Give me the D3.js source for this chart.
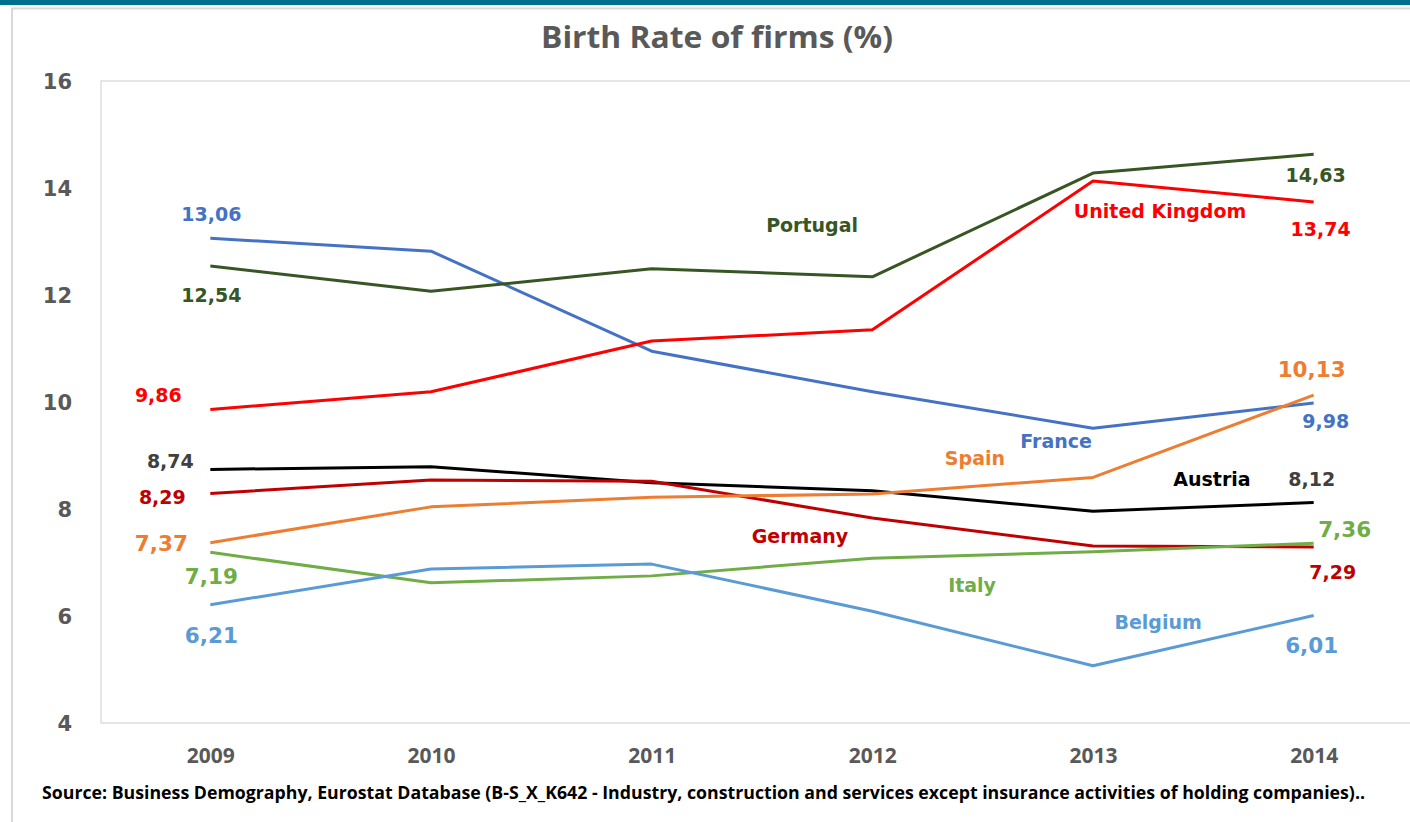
<!DOCTYPE html>
<html>
<head>
<meta charset="utf-8">
<script src="https://cdn.jsdelivr.net/npm/d3@7"></script>
<style>
  html, body { margin: 0; padding: 0; background: #ffffff; }
  svg { display: block; }
</style>
</head>
<body>
<script>
// ---- data ----
const years = ["2009", "2010", "2011", "2012", "2013", "2014"];
const countries = ["France", "Portugal", "United Kingdom", "Austria", "Germany", "Spain", "Italy", "Belgium"];
const france        = [13.06, 12.82, 10.95, 10.19, 9.51, 9.98];
const portugal      = [12.54, 12.07, 12.49, 12.34, 14.28, 14.63];
const unitedKingdom = [9.86, 10.19, 11.14, 11.35, 14.13, 13.74];
const austria       = [8.74, 8.79, 8.49, 8.34, 7.96, 8.12];
const germany       = [8.29, 8.54, 8.52, 7.83, 7.31, 7.29];
const spain         = [7.37, 8.04, 8.22, 8.28, 8.59, 10.13];
const italy         = [7.19, 6.62, 6.75, 7.08, 7.20, 7.36];
const belgium       = [6.21, 6.88, 6.97, 6.09, 5.07, 6.01];
const yTicks = [4, 6, 8, 10, 12, 14, 16];
const title = "Birth Rate of firms (%)";
const source = "Source: Business Demography, Eurostat  Database (B-S_X_K642 - Industry, construction and services except insurance activities of holding companies)..";

// ---- styling / layout (not data) ----
const seriesValues = [france, portugal, unitedKingdom, austria, germany, spain, italy, belgium];
const colors = ["#4472C4", "#375623", "#FF0000", "#000000", "#C00000", "#ED7D31", "#70AD47", "#5B9BD5"];
const valueColors = ["#4472C4", "#375623", "#FF0000", "#404040", "#C00000", "#ED7D31", "#70AD47", "#5B9BD5"];
// start label offsets (dx, dy from the 2009 point, to text centre), font size
const startLab = [[1,-24,19],[1,29,19],[-52,-14.5,19],[-40,-8,19],[-48,3.5,19],[-49,0,21.5],[1,24,21.5],[1,30,21.5]];
const endLab   = [[12,18,19],[2,21,19],[7,27,19],[-2,-24,19],[19,25,19],[-2,-26,21.5],[31,-14,21.5],[-2,30,21.5]];
// name labels at fractional category index and value position
const nameLab  = [[3.833,9.27],[2.727,13.31],[4.304,13.57],[4.539,8.56],[2.672,7.50],[3.465,8.95],[3.452,6.58],[4.295,5.89]];

const W = 1410, H = 822;
const plot = { left: 101, right: 1424, top: 81, bottom: 723 };

const svg = d3.select("body").append("svg").attr("width", W).attr("height", H);

// frame
svg.append("rect").attr("x", 0).attr("y", 0).attr("width", W).attr("height", 5).attr("fill", "#00708F");
svg.append("line").attr("x1", 11).attr("x2", W).attr("y1", 8.5).attr("y2", 8.5).attr("stroke", "#d9d9d9").attr("stroke-width", 2);
svg.append("line").attr("x1", 12).attr("x2", 12).attr("y1", 8).attr("y2", H).attr("stroke", "#d9d9d9").attr("stroke-width", 2);

// plot area border
svg.append("rect").attr("x", plot.left).attr("y", plot.top)
  .attr("width", plot.right - plot.left).attr("height", plot.bottom - plot.top)
  .attr("fill", "none").attr("stroke", "#d9d9d9").attr("stroke-width", 1.3);

const x = d3.scalePoint().domain(years).range([100, 1424]).padding(0.5);
const y = d3.scaleLinear().domain([4, 16]).range([723, 81]);
const xi = i => x(years[0]) + i * x.step();

// title
svg.append("text").attr("x", 717).attr("y", 48).attr("text-anchor", "middle")
  .attr("font-family", "'Open Sans', sans-serif").attr("font-weight", "bold").attr("font-size", 30)
  .attr("fill", "#595959").attr("textLength", 352).attr("lengthAdjust", "spacingAndGlyphs")
  .text(title);

// y axis
const yAxis = svg.append("g").attr("transform", `translate(${plot.left},0)`)
  .call(d3.axisLeft(y).tickValues(yTicks).tickSize(0).tickPadding(29).tickFormat(d3.format("d")));
yAxis.select(".domain").remove();
yAxis.selectAll("text").attr("font-family", "'DejaVu Sans', sans-serif").attr("font-weight", "bold")
  .attr("font-size", 21).attr("fill", "#595959").attr("dy", "0.36em");

// x axis
const xAxis = svg.append("g").attr("transform", `translate(0,${plot.bottom})`)
  .call(d3.axisBottom(x).tickSize(0).tickPadding(40));
xAxis.select(".domain").remove();
xAxis.selectAll("text").attr("font-family", "'Open Sans', sans-serif").attr("font-weight", "bold")
  .attr("font-size", 21).attr("fill", "#595959").attr("dy", 0);

// lines
const line = d3.line().x((d, i) => x(years[i])).y(d => y(d));
seriesValues.forEach((vals, k) => {
  svg.append("path").datum(vals).attr("d", line).attr("fill", "none")
    .attr("stroke", colors[k]).attr("stroke-width", 3).attr("stroke-linejoin", "round");
});

const fmt = v => d3.format(".2f")(v).replace(".", ",");
const labelFont = "'DejaVu Sans', sans-serif";
function addLabel(cx, cy, size, color, txt) {
  svg.append("text").attr("x", cx).attr("y", cy + size * 0.729 / 2)
    .attr("text-anchor", "middle").attr("font-family", labelFont).attr("font-weight", "bold")
    .attr("font-size", size).attr("fill", color).text(txt);
}

seriesValues.forEach((vals, k) => {
  const s = startLab[k], e = endLab[k], n = nameLab[k];
  addLabel(x(years[0]) + s[0], y(vals[0]) + s[1], s[2], valueColors[k], fmt(vals[0]));
  const last = vals.length - 1;
  addLabel(x(years[last]) + e[0], y(vals[last]) + e[1], e[2], valueColors[k], fmt(vals[last]));
  addLabel(xi(n[0]), y(n[1]), 19, colors[k], countries[k]);
});

// source
svg.append("text").attr("x", 42).attr("y", 799)
  .attr("font-family", "'Liberation Sans Narrow', 'Open Sans', sans-serif").attr("font-weight", "bold")
  .attr("font-size", 18).attr("fill", "#000000")
  .attr("textLength", 1323).attr("lengthAdjust", "spacingAndGlyphs")
  .text(source);
</script>
</body>
</html>
